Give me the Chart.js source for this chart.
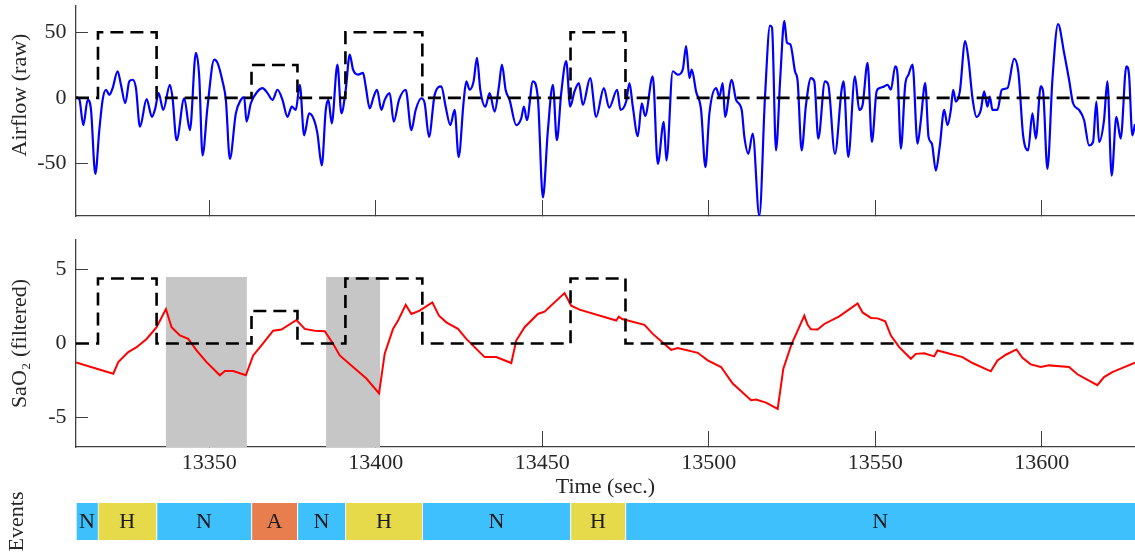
<!DOCTYPE html>
<html>
<head>
<meta charset="utf-8">
<title>Airflow and SaO2 events</title>
<script src="https://cdn.jsdelivr.net/npm/chart.js@4.4.0/dist/chart.umd.min.js"></script>
<style>
  html, body { margin: 0; padding: 0; background: #fff; }
  #wrap { position: relative; width: 1135px; height: 556px; overflow: hidden; }
  canvas { position: absolute; left: 0; }
  #airflow_chart { top: 0; }
  #sao2_chart { top: 230px; }
  #events_chart { top: 480px; }
</style>
</head>
<body>
<div id="wrap">
  <canvas id="airflow_chart" width="1135" height="230"></canvas>
  <canvas id="sao2_chart" width="1135" height="270"></canvas>
  <canvas id="events_chart" width="1135" height="76"></canvas>
</div>
<script>
'use strict'

//Data ---------------------------------------------------------
const xMin = 13310;
const xMax = 13628;
const xTicks = [13350, 13400, 13450, 13500, 13550, 13600];
const airTicks = [-50, 0, 50];
const saoTicks = [-5, 0, 5];

// event segments (start times), labels and the dashed marker heights
const stepTimes = [13310, 13316.6, 13334.2, 13362.7, 13376.5, 13390.9, 13414, 13458.5, 13475];
const eventLabels = ['N', 'H', 'N', 'A', 'N', 'H', 'N', 'H', 'N'];
const stepAirflow = [0, 50, 0, 25, 0, 50, 0, 50, 0];
const stepSao2 = [0, 4.4, 0, 2.2, 0, 4.4, 0, 4.4, 0];

// grey desaturation windows on the SaO2 panel
const shadeStart = [13337, 13385.1];
const shadeEnd = [13361.3, 13401.3];
const shadeTop = 4.5;

const airT = [
  13310, 13311, 13312.2, 13313.5, 13314.5, 13315.8, 13317, 13318, 13319, 13320,
  13321, 13322.5, 13323.5, 13324.8, 13326, 13327, 13328, 13329.2, 13331.2, 13332.8,
  13333.8, 13334.8, 13336.2, 13338.2, 13339, 13340.2, 13342.5, 13344.2, 13346, 13347,
  13348, 13349.5, 13351.5, 13352.5, 13354, 13355, 13356.2, 13358, 13359.5, 13360.5,
  13361.2, 13362.5, 13364.5, 13366, 13367.5, 13369, 13370.5, 13372, 13373.5, 13374.8,
  13376, 13377.2, 13378.5, 13380, 13381.5, 13382.5, 13383.8, 13385, 13385.8, 13386.8,
  13388.5, 13389.7, 13391, 13392.2, 13393.2, 13394.7, 13396.2, 13397, 13398.2, 13399.4,
  13400.4, 13401.7, 13402.7, 13404.2, 13405.4, 13407, 13409, 13410.7, 13412, 13413.7,
  13414.7, 13416, 13417.7, 13419.7, 13421, 13422.4, 13423.7, 13424.9, 13426.4, 13427.2,
  13428.2, 13429.4, 13430.4, 13431.4, 13432.9, 13434.2, 13435.7, 13437, 13437.9, 13439,
  13440.2, 13442.2, 13443.7, 13444.5, 13445.4, 13447.2, 13448.7, 13450.2, 13451.7, 13453.2,
  13454.4, 13455.7, 13457.2, 13458.4, 13459.7, 13461, 13462.2, 13464.4, 13466.2, 13468.5,
  13470.1, 13472.5, 13473.5, 13475.2, 13476.2, 13477.2, 13478.7, 13479.9, 13480.9, 13483.2,
  13484.7, 13486.5, 13487.3, 13489.2, 13490.7, 13492.2, 13493.2, 13494.2, 13494.9, 13496.2,
  13497.7, 13499, 13500.2, 13502.2, 13503.2, 13504.2, 13504.9, 13506.9, 13508.2, 13509.9,
  13510.7, 13511.9, 13513.2, 13515.2, 13516.9, 13518.4, 13519, 13520.2, 13521.5, 13522.7,
  13523.5, 13524.5, 13525.9, 13526.7, 13527.9, 13529.2, 13530.7, 13531.7, 13532.9, 13534.9,
  13535.9, 13537.9, 13539.9, 13540.5, 13541.9, 13543.9, 13545.2, 13546.2, 13547.7, 13549,
  13550.4, 13551.2, 13552.7, 13553.7, 13554.7, 13556, 13556.7, 13557.7, 13559, 13560,
  13561.2, 13562.7, 13563.7, 13565, 13566, 13567, 13568.2, 13569.4, 13570.7, 13571.7,
  13572.7, 13573.4, 13574.2, 13575.4, 13577, 13578, 13579.2, 13580.4, 13581.7, 13582.7,
  13583.7, 13584.4, 13585.2, 13586.7, 13588, 13589.7, 13591.7, 13593, 13594.4, 13595.9,
  13597.2, 13598.2, 13599.7, 13600.4, 13601.7, 13603.2, 13604.9, 13606.7, 13608.2, 13609.4,
  13611.2, 13612.7, 13614.2, 13615.4, 13616.4, 13617.2, 13618.7, 13619.7, 13621, 13622.4,
  13623.7, 13625.4, 13626.2, 13627.2, 13628
];
const airV = [
  0.5, -1, -20.8, -1.5, -9, -58, -24.6, -1.5, 6.2, 2.3,
  7.4, 20.3, 10, -4.1, 12.6, 13.8, 7.4, -22, -1, -14.4,
  -8, 3.6, -9.2, 10, -0.3, -32.3, -0.3, -24.6, 34.4, 16.4,
  -43.8, -6.7, 29.2, 26.7, 12.6, -1.5, -46.4, -11.8, -1.5, 0.5,
  -18.2, -4.1, 4.9, 7.4, 3.6, -1.5, 6.2, -1.5, -14.4, -6.7,
  -9.2, 10, -28.5, -11.8, -16.9, -27.2, -51.5, -9.2, -1.5, -19.5,
  25.4, -11.8, 6.2, 33, 21.5, 17.7, 19, 8.7, -8, 1,
  6.2, -9.2, -1.5, 3.6, -18.2, -1.5, 6.2, -24.6, -9.2, -0.3,
  -4.1, -29.7, 2.3, 8.7, -6.7, -20.8, -9.2, -45.1, -2.8, 12.6,
  6.2, 12.6, 30.5, 6.2, -6.7, 3.6, -10.5, 8.7, 25.4, 6.2,
  -1.5, -20.8, -15.6, -6.7, -16.9, 12.6, -0.3, -75.9, -24.6, 10,
  -32.3, 3.6, 28, -6.7, 4.9, 11.3, -5.4, 15.1, -14.4, 7.5,
  -7.5, 6.2, -9.2, -2.8, 11.3, -6.7, -29.2, -4.1, -13.8, 16.4,
  -50.3, -18.2, -47.7, 20.3, 17.7, 21.5, 39.5, 15.1, 21.5, 4.9,
  -9.2, -52.8, -11.8, 7.4, 1, 11.3, -14.4, 13.8, -1.5, -9.2,
  -29.7, -42.6, -27.2, -90, 1, 55, 53.6, -40, 16.4, 58.7,
  42, 40.8, 20.3, 12.6, -40, -5.4, 15.1, 12.6, -31, 12.6,
  10, -42.6, 6.2, 12.6, -45.1, 16.4, -9.2, -5.4, 26.7, -33.6,
  4.9, 7.4, 8.7, 10, 6.2, 24.1, 17.7, -38.7, 10, 17.7,
  25.4, -34.9, -16.9, 11.3, -29.7, -34.9, -55.4, -36.2, -9.2, -20.8,
  -9.2, 6.2, -2.8, 4.9, 43.3, 29.2, -0.3, -14.4, -9.2, 4.9,
  -6.7, 1, -9.2, -9.2, 6.2, 7.4, 29.7, 19, -28.5, -40,
  -11.8, -31, 8.7, 4.9, -54.1, 13.8, 56.2, 34.4, 13.8, -4.1,
  -9.2, -16.9, -36.2, -33.6, -2.8, -33.6, -16.9, 12.6, -59.2, -14.4,
  -31, 24.1, 17.7, -28.5, -20
];

const saoT = [
  13310, 13321.2, 13322.7, 13325.7, 13328.2, 13331.2, 13334.2, 13337, 13338.7, 13341.2,
  13343.7, 13346.2, 13349.2, 13353.2, 13354.7, 13357.2, 13361, 13363.2, 13365.7, 13369.2,
  13371.7, 13376.2, 13378.7, 13381.7, 13384.7, 13387.2, 13389.2, 13393.2, 13397.2, 13401,
  13402.7, 13405.2, 13406.7, 13409, 13410.7, 13413.2, 13417, 13419, 13421.2, 13424.7,
  13427.2, 13432.7, 13436.2, 13440.7, 13442.2, 13444.7, 13448.7, 13450.7, 13456.7, 13458.7,
  13461.2, 13472.2, 13473, 13474, 13480.7, 13483.2, 13488.7, 13490.7, 13496.7, 13499.7,
  13503.7, 13507.2, 13512.7, 13514.2, 13517.2, 13520.7, 13522.4, 13524.9, 13526.7, 13528.7,
  13529.7, 13530.7, 13532.7, 13534.7, 13539.2, 13544.7, 13546.2, 13548.7, 13550.7, 13553,
  13554.7, 13557.2, 13560.7, 13562.2, 13564.7, 13567.7, 13568.7, 13576.2, 13579.2, 13584.7,
  13586.7, 13589.2, 13592.4, 13594.2, 13596.7, 13599.7, 13602.2, 13608.2, 13610.7, 13616.7,
  13618.7, 13621.2, 13623.7, 13628
];
const saoV = [
  -1.28, -2.04, -1.26, -0.58, -0.25, 0.31, 1.1, 2.33, 1.1, 0.54,
  0.31, -0.47, -1.26, -2.15, -1.86, -1.86, -2.15, -0.81, -0.13, 0.87,
  0.94, 1.59, 0.99, 0.87, 0.83, -0.02, -0.81, -1.59, -2.37, -3.38,
  -0.69, 0.99, 1.55, 2.62, 2.0, 2.22, 2.78, 1.88, 1.43, 0.99,
  0.31, -0.92, -0.92, -1.32, 0.2, 1.1, 2.0, 2.15, 3.41, 2.56,
  2.29, 1.55, 1.82, 1.66, 1.26, 0.65, -0.43, -0.3, -0.63, -1.14,
  -1.59, -2.71, -3.83, -3.79, -4.0, -4.42, -1.7, -0.02, 0.87, 1.88,
  1.26, 0.96, 0.94, 1.32, 1.84, 2.71, 2.1, 1.73, 1.7, 1.5,
  0.54, -0.25, -1.03, -0.7, -0.66, -0.87, -0.47, -0.92, -1.32, -1.88,
  -1.14, -0.76, -0.4, -0.97, -1.41, -1.59, -1.48, -1.59, -2.08, -2.82,
  -2.27, -1.93, -1.7, -1.3
];

//Style ---------------------------------------------------------
const fontFamily = "'Liberation Serif', 'DejaVu Serif', serif";
const axisColor = '#404040';
const eventColors = { N: '#3ec0fd', H: '#e6da4b', A: '#e87e4e' };

Chart.defaults.font.family = fontFamily;
Chart.defaults.font.size = 22;
Chart.defaults.color = '#262626';
Chart.defaults.animation = false;
Chart.defaults.plugins.legend.display = false;
Chart.defaults.plugins.tooltip.enabled = false;

//Helpers ---------------------------------------------------------
function toPoints(xs, ys) {
  return xs.map((x, i) => ({ x: x, y: ys[i] }));
}

function stepPoints(values) {
  let pts = toPoints(stepTimes, values);
  pts.push({ x: xMax, y: values[values.length - 1] });
  return pts;
}

function dashedDataset(values) {
  return {
    data: stepPoints(values),
    borderColor: '#000',
    borderWidth: 2.6,
    borderDash: [13, 7],
    stepped: 'before',
    pointRadius: 0
  };
}

// chart.js pads the chart area for the tick labels, the picture wants the
// plot box exactly where it is, so that padding is dropped
function noPadding(scale) {
  scale.paddingTop = 0;
  scale.paddingBottom = 0;
  scale.paddingLeft = 0;
  scale.paddingRight = 0;
}

function timeScale(axisHeight, showLabels) {
  return {
    type: 'linear',
    min: xMin,
    max: xMax,
    afterBuildTicks: (scale) => { scale.ticks = xTicks.map(v => ({ value: v })); },
    afterFit: (scale) => { scale.height = axisHeight; noPadding(scale); },
    grid: { drawOnChartArea: false, drawTicks: true, tickLength: -16, color: axisColor },
    border: { display: true, color: axisColor, width: 1.3 },
    ticks: {
      display: showLabels, padding: 19.5, maxRotation: 0, autoSkip: false,
      callback: (v) => String(v)
    }
  };
}

function valueScale(lo, hi, tickList) {
  return {
    type: 'linear',
    min: lo,
    max: hi,
    afterBuildTicks: (scale) => { scale.ticks = tickList.map(v => ({ value: v })); },
    afterFit: (scale) => { scale.width = 76; noPadding(scale); },
    grid: { drawOnChartArea: false, drawTicks: true, tickLength: -12, color: axisColor },
    border: { display: true, color: axisColor, width: 1.3 },
    ticks: { padding: 21.5, callback: (v) => String(v) }
  };
}

//Plugins ---------------------------------------------------------
const airflowLabel = {
  id: 'airflowLabel',
  afterDraw(chart) {
    const ctx = chart.ctx;
    ctx.save();
    ctx.translate(20, 95);
    ctx.rotate(-Math.PI / 2);
    ctx.font = '22px ' + fontFamily;
    ctx.fillStyle = '#262626';
    ctx.textAlign = 'center';
    ctx.textBaseline = 'middle';
    ctx.fillText('Airflow (raw)', 0, 0);
    ctx.restore();
  }
};

const shadeWindows = {
  id: 'shadeWindows',
  beforeDatasetsDraw(chart) {
    const ctx = chart.ctx;
    const xs = chart.scales.x;
    const ys = chart.scales.y;
    ctx.save();
    ctx.fillStyle = 'rgb(198,198,198)';
    for (let i = 0; i < shadeStart.length; i++) {
      let left = xs.getPixelForValue(shadeStart[i]);
      let right = xs.getPixelForValue(shadeEnd[i]);
      let top = ys.getPixelForValue(shadeTop);
      ctx.fillRect(left, top, right - left, chart.chartArea.bottom - top);
    }
    ctx.restore();
  }
};

const eventText = {
  id: 'eventText',
  afterDatasetsDraw(chart) {
    const ctx = chart.ctx;
    const meta = chart.getDatasetMeta(0);
    ctx.save();
    ctx.font = '22px ' + fontFamily;
    ctx.fillStyle = '#1a1a1a';
    ctx.textAlign = 'center';
    ctx.textBaseline = 'middle';
    meta.data.forEach((bar, i) => {
      let p = bar.getProps(['x', 'y', 'base'], true);
      ctx.fillText(eventLabels[i], (p.x + p.base) / 2, p.y + 1);
    });
    ctx.restore();
  }
};

//Charts ---------------------------------------------------------
new Chart(document.getElementById('airflow_chart'), {
  type: 'line',
  data: {
    datasets: [
      dashedDataset(stepAirflow),
      {
        data: toPoints(airT, airV), borderColor: '#0000ff', borderWidth: 2.2,
        pointRadius: 0, cubicInterpolationMode: 'monotone'
      }
    ]
  },
  options: {
    responsive: false,
    layout: { padding: { top: 6, right: 0, left: 0, bottom: 0 } },
    scales: {
      x: timeScale(14, false),
      y: valueScale(-90, 70, airTicks)
    }
  },
  plugins: [airflowLabel]
});

let saoY = valueScale(-7, 7, saoTicks);
saoY.title = { display: true, text: 'SaO\u2082 (filtered)', padding: { top: 7, bottom: 0 } };
let saoX = timeScale(53, true);
saoX.title = { display: true, text: 'Time (sec.)', padding: { top: 0, bottom: 0 } };

new Chart(document.getElementById('sao2_chart'), {
  type: 'line',
  data: {
    datasets: [
      dashedDataset(stepSao2),
      { data: toPoints(saoT, saoV), borderColor: '#ff0000', borderWidth: 2, pointRadius: 0, tension: 0 }
    ]
  },
  options: {
    responsive: false,
    layout: { padding: { top: 10, right: 0, left: 0, bottom: 0 } },
    scales: { x: saoX, y: saoY }
  },
  plugins: [shadeWindows]
});

new Chart(document.getElementById('events_chart'), {
  type: 'bar',
  data: {
    labels: ['Events'],
    datasets: [{
      data: eventLabels.map((e, i) => ({
        x: [stepTimes[i], i + 1 < stepTimes.length ? stepTimes[i + 1] : xMax],
        y: 'Events'
      })),
      backgroundColor: eventLabels.map(e => eventColors[e]),
      borderColor: '#ffffff',
      borderWidth: { left: 1, right: 0, top: 0, bottom: 0 },
      borderSkipped: false,
      categoryPercentage: 1,
      barPercentage: 1,
      grouped: false
    }]
  },
  options: {
    responsive: false,
    indexAxis: 'y',
    layout: { padding: { top: 23, bottom: 16, left: 0, right: 0 } },
    scales: {
      x: { type: 'linear', min: xMin, max: xMax, display: false },
      y: {
        type: 'category',
        afterFit: (scale) => { scale.width = 76; noPadding(scale); },
        grid: { display: false },
        border: { display: false },
        ticks: { display: false },
        title: { display: true, text: 'Events', padding: { top: 4, bottom: 0 } }
      }
    }
  },
  plugins: [eventText]
});
</script>
</body>
</html>
